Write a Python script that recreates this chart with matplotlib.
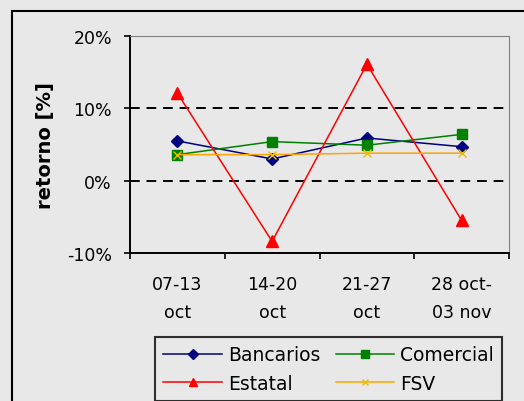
import numpy as np
import matplotlib.pyplot as plt
from matplotlib.patches import Rectangle

semanas = ['07-13\noct', '14-20\noct', '21-27\noct', '28 oct-\n03 nov']
bancarios = [5.5, 3.0, 5.9, 4.7]
comercial = [3.6, 5.4, 4.9, 6.4]
estatal = [12.1, -8.4, 16.1, -5.5]
fsv = [3.6, 3.6, 3.8, 3.8]

plt.rcParams['font.family'] = ['DejaVu Sans']
fig = plt.figure(figsize=(5.24, 4.02), dpi=100)
fig.patch.set_facecolor('#e8e8e8')
W, H = 524, 402
# outer chart frame
fig.patches.append(Rectangle((12/W, -0.05), 1.0, (H-12)/H + 0.05, transform=fig.transFigure,
                             fill=False, ec='black', lw=1.5))

ax = fig.add_axes([130/W, 1-254/H, (509-130)/W, (254-37)/H])
ax.set_facecolor('#e8e8e8')
x = np.arange(len(semanas))
l1, = ax.plot(x, bancarios, color='#000080', marker='D', ms=6, lw=1.1, label='Bancarios')
l2, = ax.plot(x, comercial, color='#008000', marker='s', ms=7, lw=1.1, label='Comercial')
l3, = ax.plot(x, estatal, color='#ff0000', marker='^', ms=8, lw=1.1, label='Estatal')
l4, = ax.plot(x, fsv, color='#ffa500', marker='x', ms=6, mec='#e8c000', lw=1.1, label='FSV')

ax.set_xlim(-0.5, 3.5)
ax.set_ylim(-10, 20)
ax.set_yticks([-10, 0, 10, 20])
ax.set_yticklabels(['-10%', '0%', '10%', '20%'], fontsize=12.5)
ax.set_xticks([-0.5, 0.5, 1.5, 2.5, 3.5])
ax.set_xticklabels([])
ax.set_xticks(x, minor=True)
ax.set_xticklabels(semanas, minor=True, fontsize=12.5, linespacing=1.7)
ax.tick_params(axis='x', which='minor', length=0, pad=16)
ax.tick_params(axis='x', which='major', direction='out', length=4.5, width=1.2)
ax.tick_params(axis='y', direction='out', length=4.5, width=1.2, pad=8.5)
for yv in [0, 10]:
    ax.axhline(yv, color='black', ls=(0, (5, 3.5)), lw=1.4, zorder=0)
ax.spines['left'].set_linewidth(1.4)
ax.spines['bottom'].set_linewidth(1.4)
ax.spines['top'].set_color('#808080')
ax.spines['right'].set_color('#808080')
ax.set_ylabel('retorno [%]', fontsize=14, fontweight='bold')
ax.yaxis.set_label_coords(-(130-55)/(509-130), 0.5)

leg = fig.legend([l1, l3, l2, l4], ['Bancarios', 'Estatal', 'Comercial', 'FSV'],
                 loc='upper left', bbox_to_anchor=(155/W, 1-338/H), ncol=2,
                 fontsize=13.5, frameon=True, fancybox=False, edgecolor='black',
                 facecolor='#e8e8e8', handlelength=3.1, handletextpad=0.35,
                 columnspacing=0.8, borderpad=0.45, labelspacing=0.5,
                 borderaxespad=0, markerscale=0.8)
leg.get_frame().set_linewidth(1.5)

fig.savefig('out.png', dpi=100, facecolor=fig.get_facecolor())
